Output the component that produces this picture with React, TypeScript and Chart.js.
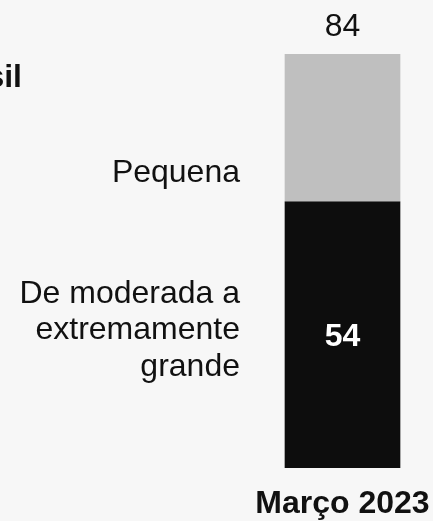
import React, { useEffect, useRef } from 'react';
import { Chart, registerables } from 'chart.js';

Chart.register(...registerables);

const categories = ['Março 2023'];
const moderadaValues = [54];
const pequenaValues = [30];
const moderadaLabel = ['De moderada a', 'extremamente', 'grande'];
const pequenaLabel = 'Pequena';
const titleText = 'Brasil';

const FONT = '"Liberation Sans", Arial, sans-serif';

export default function App() {
  const ref = useRef<HTMLCanvasElement>(null);

  useEffect(() => {
    const canvas = ref.current;
    if (!canvas) return;
    const totals = categories.map((_, i) => moderadaValues[i] + pequenaValues[i]);

    const annotPlugin = {
      id: 'annot',
      beforeDraw(chart: any) {
        const ctx = chart.ctx;
        ctx.save();
        ctx.fillStyle = '#f7f7f7';
        ctx.fillRect(0, 0, chart.width, chart.height);
        ctx.restore();
      },
      afterDatasetsDraw(chart: any) {
        const ctx = chart.ctx;
        const m0 = chart.getDatasetMeta(0).data[0] as any;
        const m1 = chart.getDatasetMeta(1).data[0] as any;
        const barLeft = m0.x - m0.width / 2;
        const labelX = barLeft - 45;
        const gCenter = (m1.y + m1.base) / 2;
        const bCenter = (m0.y + m0.base) / 2;
        ctx.save();
        ctx.textBaseline = 'alphabetic';
        ctx.fillStyle = '#111111';
        ctx.font = `32px ${FONT}`;
        ctx.textAlign = 'right';
        ctx.fillText(pequenaLabel, labelX, gCenter + 54);
        moderadaLabel.forEach((line, i) => {
          ctx.fillText(line, labelX, bCenter - 32 + i * 36.5);
        });
        ctx.textAlign = 'center';
        ctx.fillText(String(totals[0]), m1.x, m1.y - 18);
        ctx.font = `bold 32px ${FONT}`;
        ctx.fillStyle = '#ffffff';
        ctx.fillText(String(moderadaValues[0]), m0.x, bCenter + 11.5);
        ctx.fillStyle = '#111111';
        ctx.textAlign = 'right';
        ctx.fillText(titleText, 22, m1.y + 33);
        ctx.restore();
      },
    };

    const chart = new Chart(canvas, {
      type: 'bar',
      data: {
        labels: categories,
        datasets: [
          {
            label: moderadaLabel.join(' '),
            data: moderadaValues,
            backgroundColor: '#0d0d0d',
            barThickness: 115,
            borderWidth: 0,
          },
          {
            label: pequenaLabel,
            data: pequenaValues,
            backgroundColor: '#bfbfbf',
            barThickness: 115,
            borderWidth: 0,
          },
        ],
      },
      options: {
        responsive: false,
        animation: false,
        devicePixelRatio: 1,
        layout: { padding: { left: 255, right: 3, top: 54, bottom: 1 } },
        plugins: {
          legend: { display: false },
          tooltip: { enabled: false },
          title: { display: false },
        },
        scales: {
          x: {
            stacked: true,
            grid: { display: false, drawTicks: false },
            border: { display: false },
            ticks: {
              color: '#111111',
              font: { family: FONT, size: 32, weight: 'bold', lineHeight: 1 },
              padding: 20,
              maxRotation: 0,
              minRotation: 0,
            },
            afterFit(scale: any) {
              scale.height = 52;
              scale.paddingLeft = 0;
              scale.paddingRight = 0;
              scale.paddingTop = 0;
              scale.paddingBottom = 0;
            },
          },
          y: {
            stacked: true,
            display: false,
            min: 0,
            max: Math.max(...totals),
          },
        },
      },
      plugins: [annotPlugin],
    } as any);

    return () => chart.destroy();
  }, []);

  return (
    <div style={{ position: 'fixed', left: 0, top: 0, width: 433, height: 521, background: '#f7f7f7' }}>
      <canvas ref={ref} width={433} height={521} style={{ display: 'block', width: 433, height: 521 }} />
    </div>
  );
}
